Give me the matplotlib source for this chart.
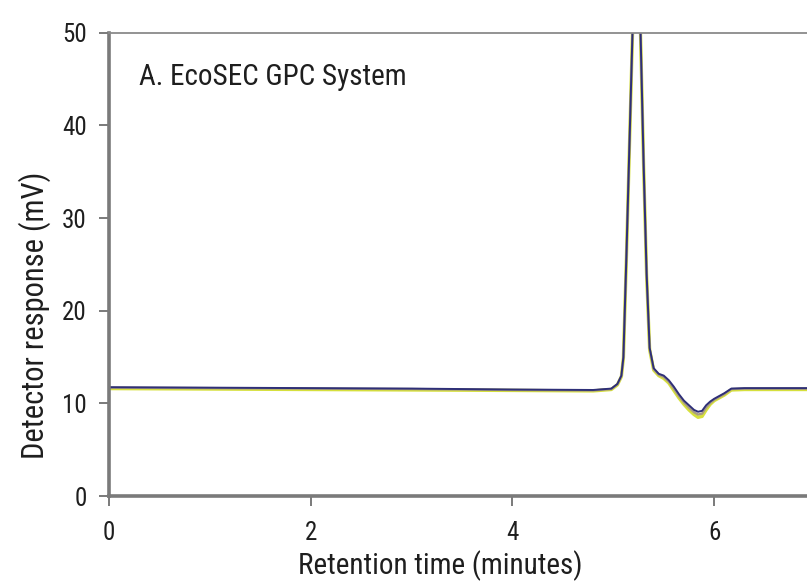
import matplotlib

matplotlib.use("Agg")
import matplotlib.pyplot as plt

# retention time (min) and detector response (mV)
time_min = [0.0, 1.0, 2.0, 3.0, 4.0, 4.8, 4.98, 5.04, 5.08, 5.10, 5.13, 5.16, 5.19,
            5.22, 5.245, 5.27, 5.30, 5.33, 5.36, 5.40, 5.45, 5.50, 5.55, 5.60,
            5.65, 5.70, 5.75, 5.80, 5.84, 5.88, 5.92, 5.96, 6.00, 6.05, 6.10,
            6.17, 6.3, 6.6, 7.0]
navy_mv = [11.75, 11.7, 11.65, 11.6, 11.5, 11.45, 11.6, 12.1, 13.0, 15.0, 26.0, 38.0, 50.0,
           56.0, 57.0, 50.0, 36.0, 24.0, 16.0, 13.8, 13.2, 13.0, 12.5, 11.8,
           11.0, 10.3, 9.8, 9.3, 9.1, 9.2, 9.8, 10.2, 10.5, 10.8, 11.1,
           11.6, 11.65, 11.65, 11.65]
yellow_mv = [11.6, 11.55, 11.5, 11.45, 11.4, 11.35, 11.5, 12.0, 12.9, 14.9, 25.8, 37.8, 49.8,
             55.8, 56.8, 49.8, 35.8, 23.8, 15.8, 13.6, 13.0, 12.7, 12.2, 11.4,
             10.6, 9.9, 9.3, 8.8, 8.5, 8.6, 9.3, 9.9, 10.3, 10.6, 10.9,
             11.45, 11.5, 11.5, 11.5]
tan_mv = [11.7, 11.65, 11.6, 11.55, 11.45, 11.4, 11.55, 12.05, 12.95, 14.95, 25.9, 37.9, 49.9,
          55.9, 56.9, 49.9, 35.9, 23.9, 15.9, 13.7, 13.1, 12.85, 12.35, 11.6,
          10.8, 10.1, 9.55, 9.05, 8.8, 8.9, 9.55, 10.05, 10.4, 10.7, 11.0,
          11.55, 11.6, 11.6, 11.6]

x_ticks = [0, 2, 4, 6]
y_ticks = [0, 10, 20, 30, 40, 50]

plt.rcParams["font.family"] = ["Roboto Condensed", "DejaVu Sans"]

fig = plt.figure(figsize=(8.07, 5.85), dpi=100)
ax = fig.add_axes([0.135, 0.152, 0.875, 0.792])

ax.plot(time_min, yellow_mv, color="#d6e03c", lw=2.4, solid_joinstyle="round")
ax.plot(time_min, tan_mv, color="#a89b82", lw=1.7)
ax.plot(time_min, navy_mv, color="#2e2f78", lw=1.4)

ax.set_xlim(0, 7.0)
ax.set_ylim(0, 50)
ax.set_xticks(x_ticks)
ax.set_yticks(y_ticks)

for side in ("left", "bottom"):
    ax.spines[side].set_color("#7a7a7a")
    ax.spines[side].set_linewidth(2.6)
ax.spines["top"].set_color("#8a8a8a")
ax.spines["top"].set_linewidth(1.3)
ax.spines["right"].set_visible(False)

ax.tick_params(axis="both", direction="out", length=7, width=1.4, color="#7a7a7a",
               labelsize=18, labelcolor="#1e1e1e")
ax.tick_params(axis="x", pad=11)
ax.tick_params(axis="y", pad=9)

ax.set_xlabel("Retention time (minutes)", fontsize=21, color="#1e1e1e", va="baseline")
ax.xaxis.set_label_coords(0.469, -0.168)
ax.set_ylabel("Detector response (mV)", fontsize=22, color="#1e1e1e")
ax.yaxis.set_label_coords(-0.082, 0.391)

ax.text(0.043, 0.935, "A. EcoSEC GPC System", transform=ax.transAxes,
        fontsize=21, color="#1e1e1e", va="top", ha="left")

fig.savefig("out.png", dpi=100)
